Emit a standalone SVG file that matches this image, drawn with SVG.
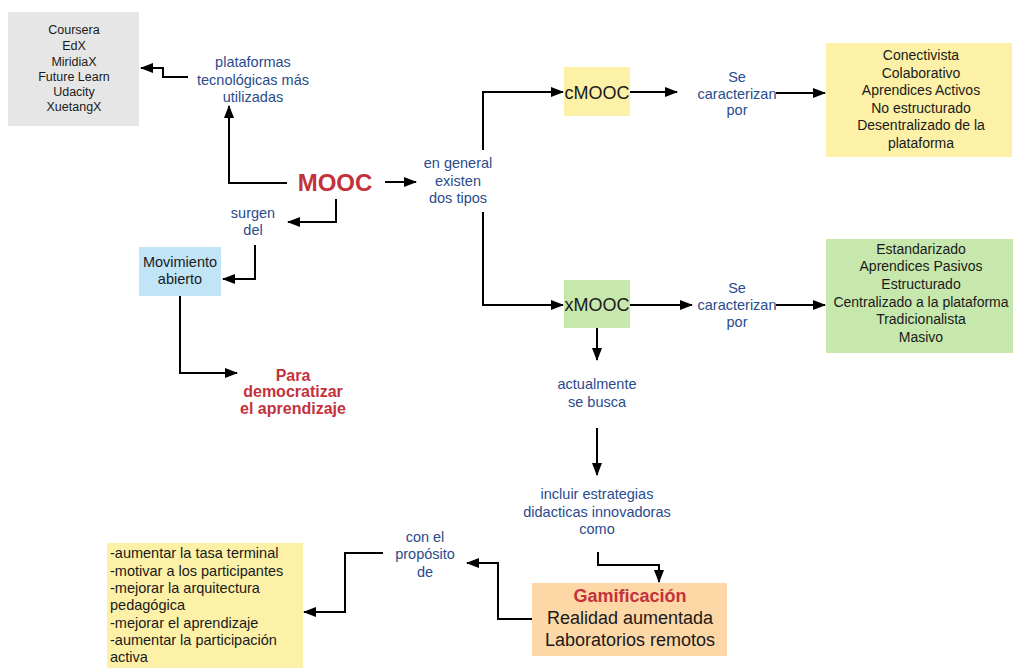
<svg xmlns="http://www.w3.org/2000/svg" width="1013" height="668" viewBox="0 0 1013 668">
<style>
text{font-family:"Liberation Sans",Arial,sans-serif;font-size:14.5px;text-anchor:middle}
.b{fill:#1a1a1a}
.l{fill:#2a4b8d}
.r{fill:#c3323c;font-weight:bold}
.left{text-anchor:start}
.c{fill:none;stroke:#000;stroke-width:2}
</style>
<defs>
<marker id="ah" markerUnits="userSpaceOnUse" markerWidth="14" markerHeight="10" refX="12" refY="5" orient="auto">
<path d="M0,0 L13,5 L0,10 z" fill="#000"/>
</marker>
</defs>
<rect width="1013" height="668" fill="#fff"/>
<g id="connectors" class="c" marker-end="url(#ah)">
<path d="M188,77 H163 V68 H141"/>
<path d="M287,183 H229 V106"/>
<path d="M385,182 H416"/>
<path d="M336,199 V222 H288"/>
<path d="M255,245 V279 H223"/>
<path d="M180,296 V373 H237"/>
<path d="M483,150 V92 H563"/>
<path d="M483,212 V305 H563"/>
<path d="M630,92 H677"/>
<path d="M776,93 H825"/>
<path d="M630,305 H692"/>
<path d="M776,305 H825"/>
<path d="M597,328 V360"/>
<path d="M597,428 V475"/>
<path d="M598,552 V565 H659 V582"/>
<path d="M532,619 H498 V563 H467"/>
<path d="M383,553 H345 V612 H304"/>
</g>
<g id="platforms">
<rect x="8" y="12" width="131" height="114" fill="#e6e6e6"/>
<text class="b" font-size="12.5" style="font-size:12.5px">
<tspan x="74" y="34">Coursera</tspan><tspan x="74" y="49.5">EdX</tspan><tspan x="74" y="65.5">MiridiaX</tspan><tspan x="74" y="80.5">Future Learn</tspan><tspan x="74" y="96">Udacity</tspan><tspan x="74" y="111">XuetangX</tspan>
</text>
</g>
<g id="label-plataformas">
<text class="l"><tspan x="253" y="67">plataformas</tspan><tspan x="253" y="84.5">tecnológicas más</tspan><tspan x="253" y="102">utilizadas</tspan></text>
</g>
<g id="mooc">
<text class="r" x="335" y="191" style="font-size:24px">MOOC</text>
</g>
<g id="label-en-general">
<text class="l"><tspan x="458" y="168">en general</tspan><tspan x="458" y="185.5">existen</tspan><tspan x="458" y="203">dos tipos</tspan></text>
</g>
<g id="label-surgen">
<text class="l"><tspan x="253" y="217.5">surgen</tspan><tspan x="253" y="235">del</tspan></text>
</g>
<g id="movimiento">
<rect x="139" y="247" width="82" height="49" fill="#c1e4f7"/>
<text class="b"><tspan x="180" y="267">Movimiento</tspan><tspan x="180" y="284">abierto</tspan></text>
</g>
<g id="para">
<text class="r" style="font-size:16px"><tspan x="293" y="380.5">Para</tspan><tspan x="293" y="397">democratizar</tspan><tspan x="293" y="413.5">el aprendizaje</tspan></text>
</g>
<g id="cmooc">
<rect x="564" y="67" width="66" height="49" fill="#fcf1a7"/>
<text class="b" x="597" y="98.5" style="font-size:18px">cMOOC</text>
</g>
<g id="label-se-1">
<text class="l"><tspan x="737" y="82">Se</tspan><tspan x="737" y="98.5">caracterizan</tspan><tspan x="737" y="115">por</tspan></text>
</g>
<g id="cmooc-traits">
<rect x="826" y="43" width="186" height="114" fill="#fcf1a7"/>
<text class="b" style="font-size:14px"><tspan x="921" y="60">Conectivista</tspan><tspan x="921" y="77.5">Colaborativo</tspan><tspan x="921" y="95">Aprendices Activos</tspan><tspan x="921" y="112.5">No estructurado</tspan><tspan x="921" y="130">Desentralizado de la</tspan><tspan x="921" y="148">plataforma</tspan></text>
</g>
<g id="xmooc">
<rect x="564" y="280" width="66" height="48" fill="#c7e8ac"/>
<text class="b" x="597" y="311" style="font-size:18px">xMOOC</text>
</g>
<g id="label-se-2">
<text class="l"><tspan x="737" y="293">Se</tspan><tspan x="737" y="310">caracterizan</tspan><tspan x="737" y="327">por</tspan></text>
</g>
<g id="xmooc-traits">
<rect x="826" y="239" width="187" height="114" fill="#c7e8ac"/>
<text class="b" style="font-size:14px"><tspan x="921" y="253.5">Estandarizado</tspan><tspan x="921" y="271">Aprendices Pasivos</tspan><tspan x="921" y="289">Estructurado</tspan><tspan x="921" y="306.5">Centralizado a la plataforma</tspan><tspan x="921" y="324">Tradicionalista</tspan><tspan x="921" y="341.5">Masivo</tspan></text>
</g>
<g id="label-actualmente">
<text class="l"><tspan x="597" y="389">actualmente</tspan><tspan x="597" y="406.5">se busca</tspan></text>
</g>
<g id="label-incluir">
<text class="l"><tspan x="597" y="499">incluir estrategias</tspan><tspan x="597" y="516.5">didacticas innovadoras</tspan><tspan x="597" y="534">como</tspan></text>
</g>
<g id="estrategias">
<rect x="532" y="583" width="195" height="73" fill="#fdd7a6"/>
<text style="font-size:18px"><tspan class="r" x="630" y="602">Gamificación</tspan><tspan class="b" x="630" y="624">Realidad aumentada</tspan><tspan class="b" x="630" y="646">Laboratorios remotos</tspan></text>
</g>
<g id="label-proposito">
<text class="l"><tspan x="425" y="541.5">con el</tspan><tspan x="425" y="559">propósito</tspan><tspan x="425" y="577">de</tspan></text>
</g>
<g id="propositos">
<rect x="107" y="543" width="196" height="125" fill="#fcf1a7"/>
<text class="b left"><tspan x="110" y="558">-aumentar la tasa terminal</tspan><tspan x="110" y="575.5">-motivar a los participantes</tspan><tspan x="110" y="593">-mejorar la arquitectura</tspan><tspan x="110" y="610">pedagógica</tspan><tspan x="110" y="627.5">-mejorar el aprendizaje</tspan><tspan x="110" y="645">-aumentar la participación</tspan><tspan x="110" y="662">activa</tspan></text>
</g>
</svg>
